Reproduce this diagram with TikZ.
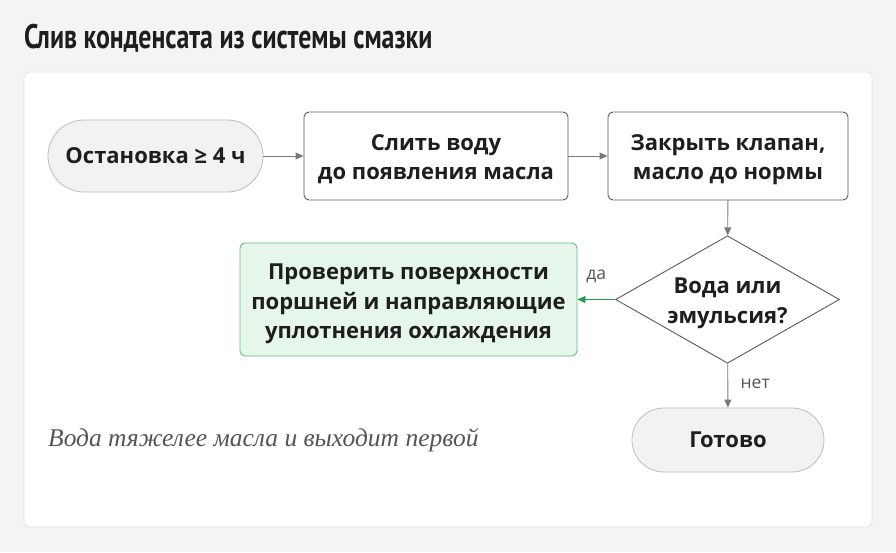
\documentclass[tikz,border=0pt]{standalone}
\usepackage{fontspec}
\setmainfont{Open Sans}
\newfontfamily\titlefont[FakeStretch=0.76]{PT Sans}
\newfontfamily\notefont{Liberation Serif}
\usetikzlibrary{shapes.geometric,arrows.meta}
\definecolor{bgc}{HTML}{F4F4F4}
\definecolor{cardb}{HTML}{E6E6E6}
\definecolor{termfill}{HTML}{F2F2F2}
\definecolor{termdraw}{HTML}{BDBDBD}
\definecolor{boxdraw}{HTML}{5A5A5A}
\definecolor{txt}{HTML}{1E1E1E}
\definecolor{arr}{HTML}{7A7A7A}
\definecolor{gfill}{HTML}{E7F6EA}
\definecolor{gdraw}{HTML}{5CC47A}
\definecolor{garr}{HTML}{1E9E4A}
\definecolor{lbl}{HTML}{555555}
\definecolor{note}{HTML}{555555}
\newcommand\mlines[2]{\raisebox{#1}[\height][\depth]{\begin{tabular}{@{}c@{}}#2\end{tabular}}}
\tikzset{
  nodefont/.style={font=\fontsize{22}{29.5}\selectfont\bfseries, text=txt, align=center},
  term/.style={nodefont, draw=termdraw, fill=termfill, line width=0.8pt, rectangle, inner sep=0pt},
  stepbox/.style={nodefont, draw=boxdraw, fill=white, line width=0.9pt, rectangle, rounded corners=5pt, inner sep=0pt},
  decision/.style={nodefont, draw=boxdraw, fill=white, line width=0.9pt, diamond, aspect=1.756, inner sep=0pt, minimum width=223pt, minimum height=127pt},
  goodbox/.style={nodefont, draw=gdraw, fill=gfill, line width=0.9pt, rectangle, rounded corners=5pt, inner sep=0pt},
  flow/.style={draw=arr, line width=0.9pt, -{Triangle[length=8pt,width=7pt]}},
  gflow/.style={draw=garr, line width=0.9pt, -{Triangle[length=8pt,width=7pt]}},
  lab/.style={font=\fontsize{17.5}{20}\selectfont, text=lbl}
}
\begin{document}
\begin{tikzpicture}[x=1pt,y=1pt]
\useasboundingbox (0,0) rectangle (896,-552);
\fill[bgc] (0,0) rectangle (896,-552);
\node[anchor=base west, inner sep=0pt, text=txt, font=\titlefont\bfseries\fontsize{34}{36}\selectfont] (title) at (24,-48) {Слив конденсата из системы смазки};
\draw[fill=white, draw=cardb, line width=0.8pt, rounded corners=6pt] (24,-72) rectangle (872,-527);
\node[term, minimum width=215pt, minimum height=72pt, rounded corners=36pt] (start) at (155.5,-156) {Остановка ≥ 4 ч};
\node[stepbox, minimum width=264pt, minimum height=88pt] (drain) at (436,-156) {\mlines{-3pt}{Слить воду\\до появления масла}};
\node[stepbox, minimum width=240pt, minimum height=88pt] (close) at (728,-156) {\mlines{-3pt}{Закрыть клапан,\\масло до нормы}};
\node[decision] (dec) at (727.5,-299.5) {\mlines{-3pt}{Вода или\\эмульсия?}};
\node[goodbox, minimum width=337pt, minimum height=113pt] (check) at (408.5,-299.5) {\mlines{-4pt}{Проверить поверхности\\поршней и направляющие\\уплотнения охлаждения}};
\node[term, minimum width=192pt, minimum height=64pt, rounded corners=32pt] (done) at (728,-440) {Готово};
\node[anchor=west, inner sep=0pt, text=note, font=\notefont\itshape\fontsize{25.5}{28}\selectfont] (tip) at (48,-440) {Вода тяжелее масла и выходит первой};
\draw[flow] (start) -- (drain);
\draw[flow] (drain) -- (close);
\draw[flow] (close) -- (dec);
\draw[gflow] (dec) -- node[lab, above, pos=0.5, yshift=13pt] (yes) {да} (check);
\draw[flow] (dec) -- node[lab, right, pos=0.45, xshift=9pt] (no) {нет} (done);
\end{tikzpicture}
\end{document}
